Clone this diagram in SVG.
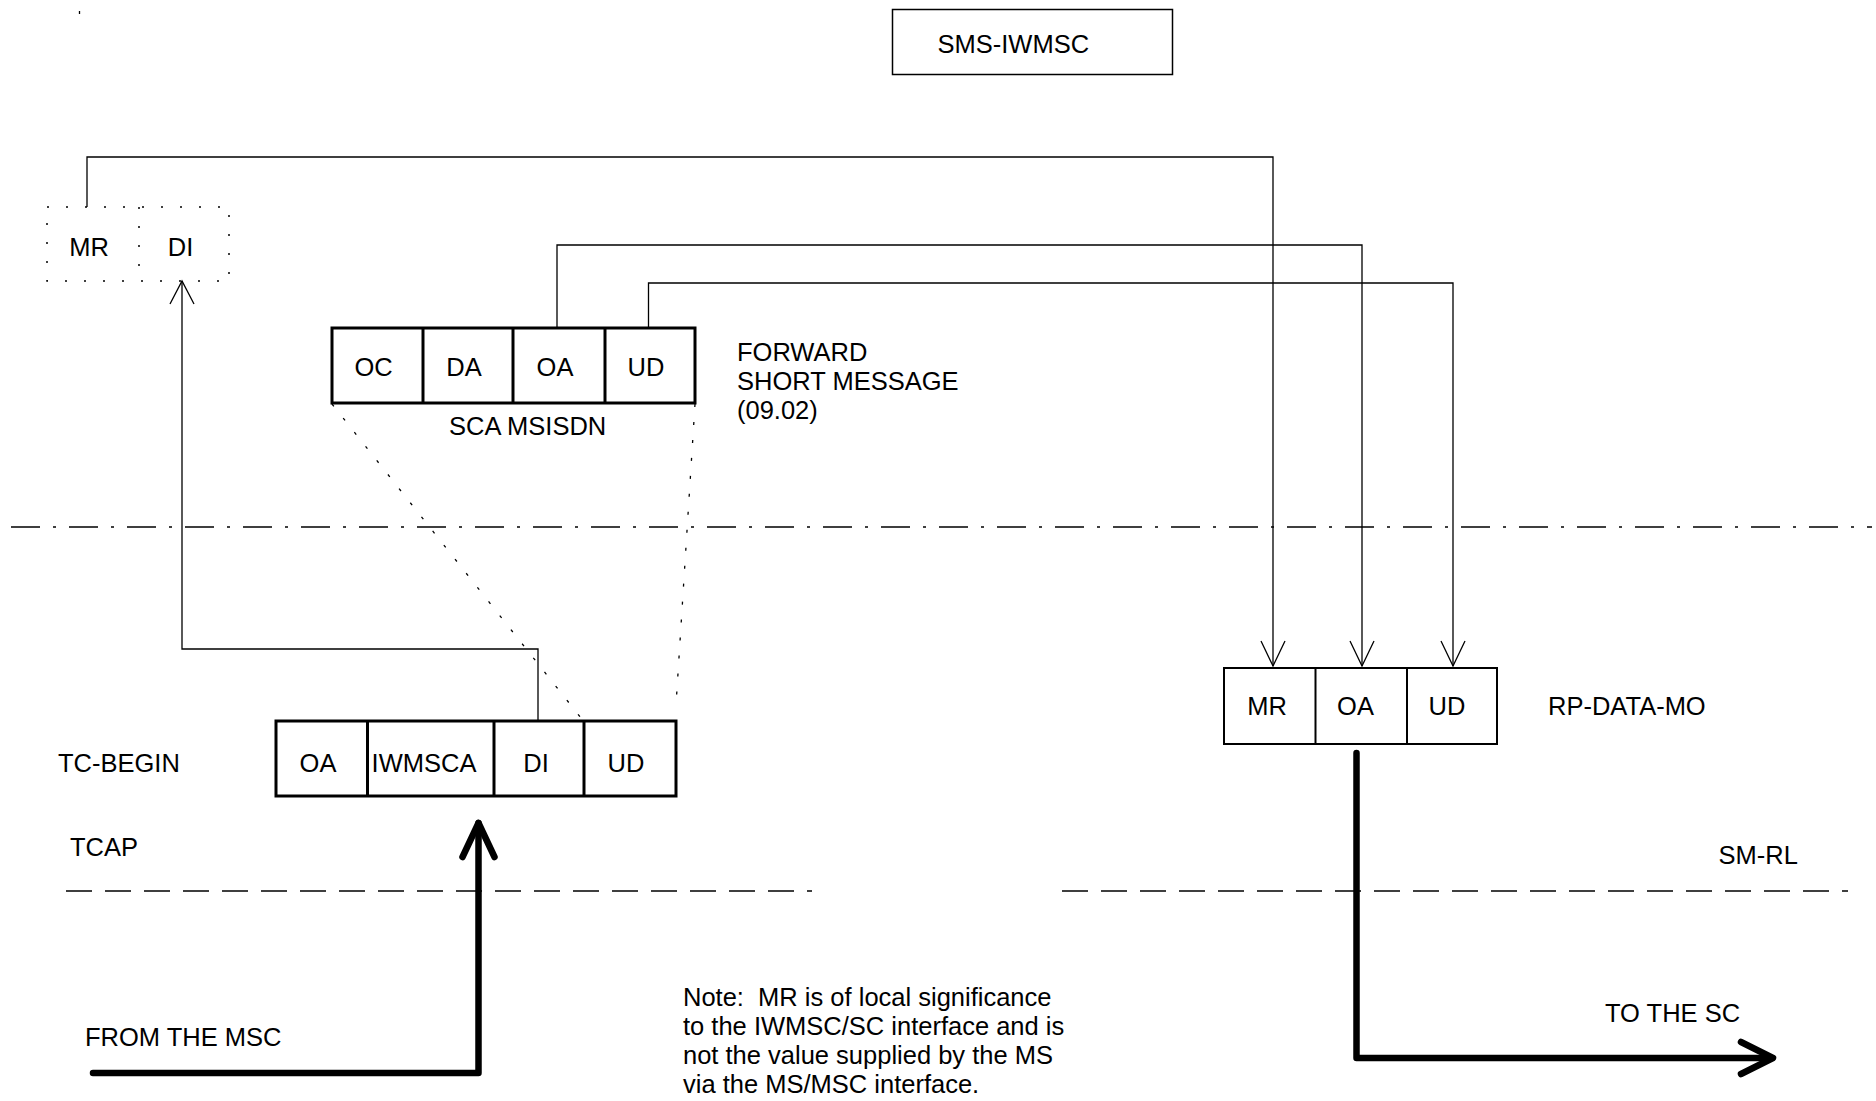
<svg xmlns="http://www.w3.org/2000/svg" width="1876" height="1101" viewBox="0 0 1876 1101">
<style>
text{font-family:"Liberation Sans",Arial,sans-serif;font-size:25.5px;fill:#000}
.m{text-anchor:middle}
.thin{fill:none;stroke:#000;stroke-width:1.3}
.box3{fill:#fff;stroke:#000;stroke-width:3}
.box2{fill:#fff;stroke:#000;stroke-width:2}
.dot{fill:none;stroke:#000;stroke-width:1.5;stroke-dasharray:2 17}
.diag{fill:none;stroke:#000;stroke-width:1.3;stroke-dasharray:3 15}
.dash{fill:none;stroke:#000;stroke-width:1.3;stroke-dasharray:26 13}
.dashdot{fill:none;stroke:#000;stroke-width:1.3;stroke-dasharray:29 13 3 13}
.thick{fill:none;stroke:#000;stroke-width:6.5;stroke-linecap:round;stroke-linejoin:round}
</style>
<rect width="1876" height="1101" fill="#fff"/>
<line x1="79.5" y1="11" x2="79.5" y2="14" class="thin"/>
<g id="layers">
<line x1="11" y1="527" x2="1872" y2="527" class="dashdot"/>
<line x1="66" y1="891" x2="812" y2="891" class="dash"/>
<line x1="1062" y1="891" x2="1848" y2="891" class="dash"/>
</g>
<g id="sms-iwmsc">
<rect x="892.5" y="9.5" width="280" height="65" fill="#fff" stroke="#000" stroke-width="1.5"/>
<text x="937.5" y="53">SMS-IWMSC</text>
</g>
<g id="mr-di">
<rect x="47" y="207" width="182" height="74" class="dot"/>
<line x1="139" y1="207" x2="139" y2="281" class="dot"/>
<text x="89" y="256" class="m">MR</text>
<text x="180.5" y="256" class="m">DI</text>
</g>
<g id="forward-short-message">
<rect x="332" y="328" width="363" height="75" class="box3"/>
<line x1="423" y1="328" x2="423" y2="403" stroke="#000" stroke-width="3"/>
<line x1="513" y1="328" x2="513" y2="403" stroke="#000" stroke-width="3"/>
<line x1="605" y1="328" x2="605" y2="403" stroke="#000" stroke-width="3"/>
<text x="373.5" y="376" class="m">OC</text>
<text x="464" y="376" class="m">DA</text>
<text x="555" y="376" class="m">OA</text>
<text x="646" y="376" class="m">UD</text>
<text x="449" y="435">SCA MSISDN</text>
<text x="737" y="361">FORWARD</text>
<text x="737" y="390">SHORT MESSAGE</text>
<text x="737" y="419">(09.02)</text>
</g>
<g id="tc-begin">
<rect x="276" y="721" width="400" height="75" class="box3"/>
<line x1="367.5" y1="721" x2="367.5" y2="796" stroke="#000" stroke-width="3"/>
<line x1="494" y1="721" x2="494" y2="796" stroke="#000" stroke-width="3"/>
<line x1="584" y1="721" x2="584" y2="796" stroke="#000" stroke-width="3"/>
<text x="318" y="772" class="m">OA</text>
<text x="424" y="772" class="m">IWMSCA</text>
<text x="536" y="772" class="m">DI</text>
<text x="626" y="772" class="m">UD</text>
<text x="58" y="772">TC-BEGIN</text>
<text x="70" y="856">TCAP</text>
</g>
<g id="rp-data-mo">
<rect x="1224" y="668" width="273" height="76" class="box2"/>
<line x1="1315.5" y1="668" x2="1315.5" y2="744" stroke="#000" stroke-width="2"/>
<line x1="1407" y1="668" x2="1407" y2="744" stroke="#000" stroke-width="2"/>
<text x="1267" y="715" class="m">MR</text>
<text x="1355.5" y="715" class="m">OA</text>
<text x="1447" y="715" class="m">UD</text>
<text x="1548" y="715">RP-DATA-MO</text>
<text x="1718.5" y="864">SM-RL</text>
</g>
<g id="labels">
<text x="85" y="1046">FROM THE MSC</text>
<text x="1605" y="1022">TO THE SC</text>
<text x="683" y="1006" xml:space="preserve">Note:  MR is of local significance</text>
<text x="683" y="1035">to the IWMSC/SC interface and is</text>
<text x="683" y="1064">not the value supplied by the MS</text>
<text x="683" y="1093">via the MS/MSC interface.</text>
</g>
<g id="connectors">
<line x1="332" y1="404" x2="581" y2="718" class="diag"/>
<line x1="695" y1="404" x2="676" y2="705" class="diag"/>
<polyline points="87,207 87,157 1273,157 1273,666" class="thin"/>
<polyline points="1261,641 1273,666 1285,641" class="thin"/>
<polyline points="557,328 557,245 1362,245 1362,666" class="thin"/>
<polyline points="1350,641 1362,666 1374,641" class="thin"/>
<polyline points="648.5,328 648.5,283 1453,283 1453,666" class="thin"/>
<polyline points="1441,641 1453,666 1465,641" class="thin"/>
<polyline points="538,721 538,649 182,649 182,281" class="thin"/>
<polyline points="170,304 182,281 194,304" class="thin"/>
<polyline points="93,1073 478.5,1073 478.5,823" class="thick"/>
<polyline points="462.5,857 478.5,823 494.5,857" class="thick"/>
<polyline points="1356.5,753 1356.5,1058 1772,1058" class="thick"/>
<polyline points="1741,1042 1773,1058 1741,1074" class="thick"/>
</g>
</svg>
